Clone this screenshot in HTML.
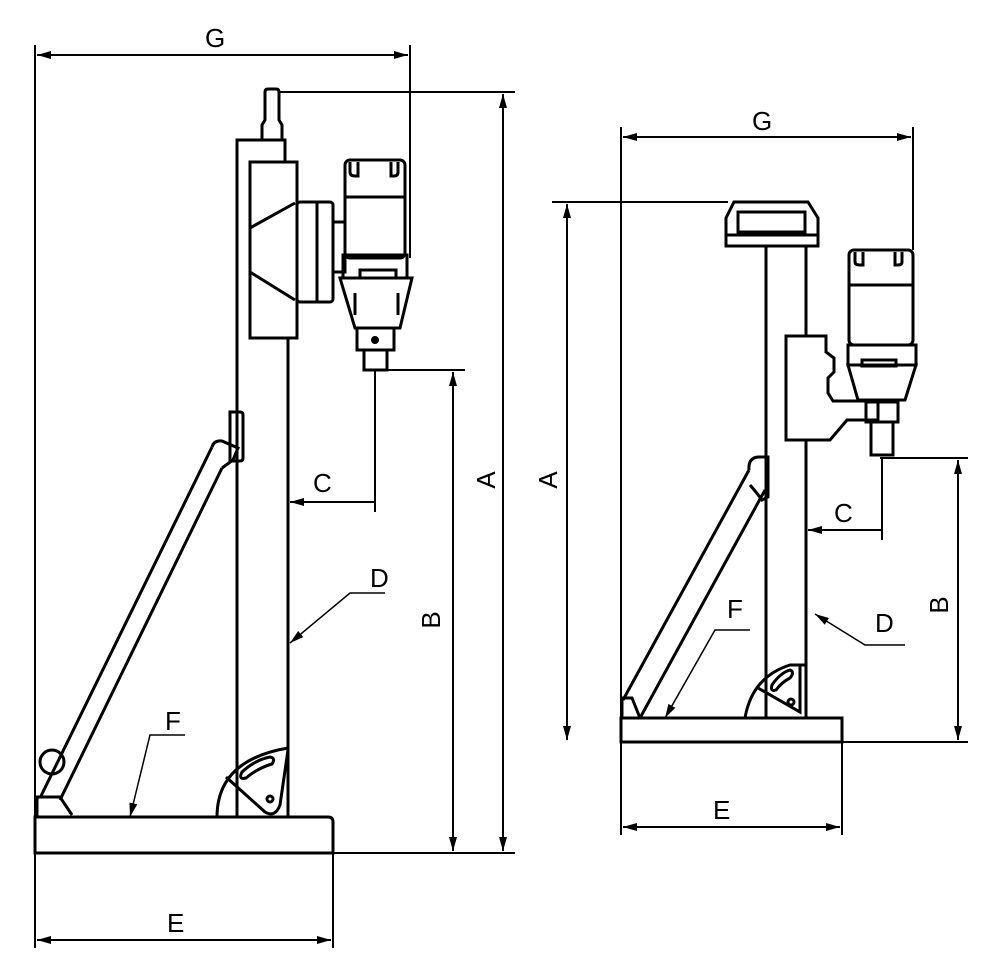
<!DOCTYPE html>
<html><head><meta charset="utf-8"><style>body{margin:0;background:#fff}svg{display:block}text{font-family:"Liberation Sans",sans-serif;font-size:26px;fill:#000}</style></head>
<body>
<svg width="1000" height="973" viewBox="0 0 1000 973" xmlns="http://www.w3.org/2000/svg">
<defs><marker id="a" markerWidth="14" markerHeight="8" refX="14" refY="4" orient="auto" markerUnits="userSpaceOnUse"><path d="M0,0 L14,4 L0,8z" fill="#000"/></marker></defs>
<g fill="none" stroke="#000" stroke-width="2">
<!-- LEFT -->
<line x1="35" y1="45" x2="35" y2="948"/>
<line x1="410" y1="45" x2="410" y2="258"/>
<line x1="200" y1="55" x2="408" y2="55" marker-end="url(#a)"/>
<line x1="220" y1="55" x2="37" y2="55" marker-end="url(#a)"/>
<line x1="278" y1="92" x2="515" y2="92"/>
<line x1="503" y1="400" x2="503" y2="851" marker-end="url(#a)"/>
<line x1="503" y1="400" x2="503" y2="94" marker-end="url(#a)"/>
<line x1="375" y1="370" x2="465" y2="370"/>
<line x1="453" y1="500" x2="453" y2="372" marker-end="url(#a)"/>
<line x1="453" y1="500" x2="453" y2="851" marker-end="url(#a)"/>
<line x1="333" y1="853" x2="515" y2="853"/>
<line x1="333" y1="853" x2="333" y2="948"/>
<line x1="170" y1="940" x2="331" y2="940" marker-end="url(#a)"/>
<line x1="180" y1="940" x2="37" y2="940" marker-end="url(#a)"/>
<line x1="375" y1="370" x2="375" y2="512"/>
<line x1="375" y1="502" x2="290" y2="502" marker-end="url(#a)"/>
<polyline points="385,593 350,593 290,643" marker-end="url(#a)" stroke-width="1.5"/>
<polyline points="185,735 150,735 130,817" marker-end="url(#a)" stroke-width="1.5"/>
<g stroke-width="3">
<path d="M35,817 H328 Q333,817 333,822 V853 H35 Z"/>
<path d="M237,817 V140 H285 V162"/>
<line x1="288" y1="338" x2="288" y2="817"/>
<path d="M262,140 V125 L265,120 V92 Q265,89 268,89 H276 Q279,89 279,92 V120 L282,125 V140"/>
<rect x="250" y="162" width="47" height="176"/>
<line x1="250" y1="228" x2="295" y2="203"/><line x1="250" y1="272" x2="295" y2="300"/>
<rect x="297" y="202" width="36" height="100" rx="3"/><line x1="317" y1="202" x2="317" y2="302"/>
<rect x="333" y="222" width="12" height="50"/>
<rect x="345" y="160" width="60" height="98" rx="5"/>
<line x1="345" y1="197" x2="405" y2="197"/>
<path d="M350,162 V172 Q350,176 355,176 H358 V162 M398,162 V172 Q398,176 394,176 H391 V162"/>
<rect x="343" y="255" width="64" height="23"/>
<path d="M340,278 H412 L400,328 H355 Z"/><rect x="360" y="270" width="36" height="8"/>
<line x1="355" y1="293" x2="355" y2="315"/><line x1="398" y1="293" x2="398" y2="315"/>
<rect x="357" y="328" width="37" height="22"/><rect x="364" y="350" width="23" height="20"/>
<circle cx="375" cy="340" r="2.5" fill="#000"/>
<line x1="40" y1="798" x2="212" y2="447"/>
<line x1="60" y1="800" x2="222" y2="468"/>
<path d="M212,447 Q214,440 222,441 L238,448 L233,460 L222,468"/>
<path d="M230,412 H240 Q243,412 243,415 V458 Q243,461 240,461 H230 Z"/>
<circle cx="52" cy="762" r="12"/>
<path d="M37,817 V797 H60 L72,815"/>
<path d="M217,817 Q217,760 288,748 V817"/>
<path d="M226,777 L265,812 Q275,818 280,805 L288,750"/>
<path d="M242,772 Q255,760 270,757 Q276,758 272,764 Q258,768 246,778 Q238,780 242,772Z"/>
<circle cx="270" cy="799" r="3"/>
</g>
<!-- RIGHT -->
<line x1="621" y1="127" x2="621" y2="835"/>
<line x1="913" y1="127" x2="913" y2="250"/>
<line x1="740" y1="137" x2="911" y2="137" marker-end="url(#a)"/>
<line x1="760" y1="137" x2="623" y2="137" marker-end="url(#a)"/>
<line x1="552" y1="202" x2="728" y2="202"/>
<line x1="567" y1="480" x2="567" y2="740" marker-end="url(#a)"/>
<line x1="567" y1="480" x2="567" y2="204" marker-end="url(#a)"/>
<line x1="880" y1="458" x2="968" y2="458"/>
<line x1="958" y1="600" x2="958" y2="460" marker-end="url(#a)"/>
<line x1="958" y1="600" x2="958" y2="740" marker-end="url(#a)"/>
<line x1="842" y1="742" x2="968" y2="742"/>
<line x1="842" y1="742" x2="842" y2="835"/>
<line x1="720" y1="827" x2="840" y2="827" marker-end="url(#a)"/>
<line x1="730" y1="827" x2="623" y2="827" marker-end="url(#a)"/>
<line x1="882" y1="458" x2="882" y2="540"/>
<line x1="882" y1="530" x2="808" y2="530" marker-end="url(#a)"/>
<polyline points="905,645 865,645 815,614" marker-end="url(#a)" stroke-width="1.5"/>
<polyline points="750,630 715,630 665,718" marker-end="url(#a)" stroke-width="1.5"/>
<g stroke-width="3">
<rect x="621" y="718" width="221" height="24"/>
<line x1="766" y1="247" x2="766" y2="718"/><line x1="806" y1="247" x2="806" y2="336"/><line x1="806" y1="440" x2="806" y2="718"/>
<path d="M734,202 H808 L818,218 V246 H726 V218 Z"/><line x1="726" y1="235" x2="818" y2="235"/>
<rect x="738" y="212" width="67" height="20"/>
<path d="M786,336 H826 V352 L834,358 V372 L828,378 V393 L833,401 H878 V420 H847 L830,440 H786 Z" fill="#fff"/>
<rect x="849" y="250" width="64" height="95" rx="5"/>
<line x1="849" y1="285" x2="913" y2="285"/>
<path d="M855,252 V262 Q855,265 860,265 H863 V252 M902,252 V262 Q902,265 898,265 H895 V252"/>
<rect x="848" y="345" width="68" height="20"/>
<path d="M848,365 H916 L905,400 H858 Z"/><rect x="862" y="360" width="34" height="6"/>
<rect x="866" y="402" width="32" height="20"/>
<rect x="871" y="422" width="22" height="33"/>
<line x1="623" y1="700" x2="749" y2="470"/>
<line x1="640" y1="718" x2="765" y2="490"/>
<path d="M749,470 Q748,458 758,457 H768 V497 L762,500 Q757,493 750,485"/>
<path d="M622,718 V698 H632 L640,718"/>
<path d="M745,718 Q752,677 790,665 H806 V718"/>
<path d="M758,688 L800,712 V665"/>
<path d="M772,685 Q780,673 790,670 Q795,672 790,678 Q782,682 776,690 Q770,692 772,685Z"/>
<circle cx="791" cy="702" r="3"/>
</g>
</g>
<text x="205" y="47">G</text>
<text x="752" y="130">G</text>
<text x="165" y="730">F</text>
<text x="727" y="618">F</text>
<text x="313" y="492">C</text>
<text x="834" y="522">C</text>
<text x="370" y="587">D</text>
<text x="875" y="632">D</text>
<text x="167" y="932">E</text>
<text x="713" y="819">E</text>
<text transform="translate(495,480) rotate(-90)" text-anchor="middle">A</text>
<text transform="translate(557,480) rotate(-90)" text-anchor="middle">A</text>
<text transform="translate(440,620) rotate(-90)" text-anchor="middle">B</text>
<text transform="translate(948,605) rotate(-90)" text-anchor="middle">B</text>
</svg>
</body></html>
